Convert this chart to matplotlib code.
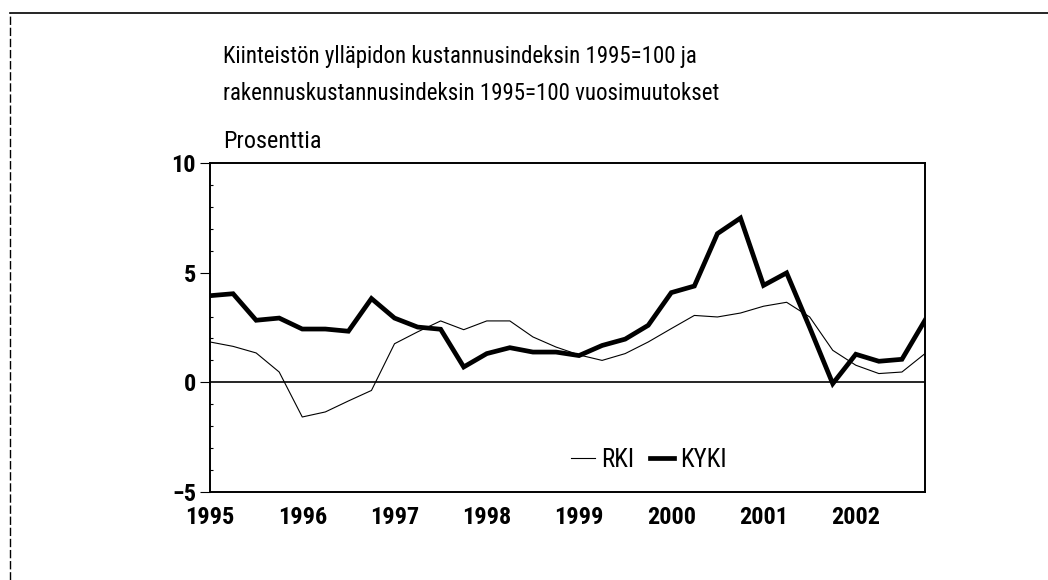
import matplotlib
matplotlib.use("Agg")
import matplotlib.pyplot as plt
from matplotlib.lines import Line2D
from matplotlib.ticker import MultipleLocator

plt.rcParams['font.family'] = ['Roboto Condensed', 'DejaVu Sans']
plt.rcParams['font.stretch'] = 'condensed'

# Quarterly data 1995Q1 .. 2002Q4
start_year = 1995
rki = [1.84, 1.64, 1.34, 0.47, -1.58, -1.35, -0.85, -0.37,
       1.76, 2.30, 2.80, 2.40, 2.80, 2.80, 2.07, 1.61,
       1.25, 1.00, 1.31, 1.84, 2.45, 3.05, 2.98, 3.16,
       3.47, 3.65, 2.98, 1.46, 0.78, 0.40, 0.47, 1.31]
kyki = [3.95, 4.04, 2.83, 2.93, 2.43, 2.43, 2.33, 3.82,
        2.93, 2.52, 2.42, 0.70, 1.31, 1.58, 1.38, 1.38,
        1.22, 1.68, 1.97, 2.60, 4.09, 4.39, 6.78, 7.49,
        4.42, 4.99, 2.50, -0.06, 1.28, 0.96, 1.05, 2.83]
years = [1995, 1996, 1997, 1998, 1999, 2000, 2001, 2002]
yticks = [-5, 0, 5, 10]

title = ("Kiinteistön ylläpidon kustannusindeksin 1995=100 ja\n"
         "rakennuskustannusindeksin 1995=100 vuosimuutokset")
ylabel = "Prosenttia"

x = [start_year + i / 4 for i in range(len(rki))]

fig = plt.figure(figsize=(10.48, 5.8), dpi=100)
ax = fig.add_axes([210 / 1048, 1 - 492 / 580, 715 / 1048, 329 / 580])

ax.plot(x, rki, color='black', lw=0.8, label='RKI')
ax.plot(x, kyki, color='black', lw=3.4, label='KYKI', solid_joinstyle='miter')
ax.axhline(0, color='black', lw=1.2)

ax.set_xlim(x[0], x[-1])
ax.set_ylim(-5, 10)
ax.set_yticks(yticks)
ax.set_yticklabels(['\u22125' if v < 0 else str(v) for v in yticks])
ax.yaxis.set_minor_locator(MultipleLocator(1))
ax.tick_params(axis='y', which='major', direction='out', length=7, width=0.8,
               labelsize=17.5, pad=3)
ax.tick_params(axis='y', which='minor', direction='in', length=2, width=0.8)
ax.set_xticks(years)
ax.set_xticklabels([str(y) for y in years])
ax.tick_params(axis='x', which='both', length=0, labelsize=17.5, pad=10)
for lab in ax.get_xticklabels() + ax.get_yticklabels():
    lab.set_fontweight('bold')
for s in ax.spines.values():
    s.set_linewidth(1.4)

leg = ax.legend(loc='center left', bbox_to_anchor=(0.505, 0.097), ncol=2,
                frameon=False, fontsize=18, handlelength=0.95,
                handletextpad=0.25, columnspacing=0.65, borderpad=0,
                borderaxespad=0)

fig.text(223 / 1048, 1 - 75 / 580, title, fontsize=16.5, ha='left', va='center',
         linespacing=1.78)
fig.text(223 / 1048, 1 - 141 / 580, ylabel, fontsize=17.5, ha='left', va='center')

# outer frame lines (top and left)
fig.add_artist(Line2D([10 / 1048, 1], [1 - 13 / 580, 1 - 13 / 580],
                      transform=fig.transFigure, color='black', lw=1.2))
fig.add_artist(Line2D([10 / 1048, 10 / 1048], [0, 1 - 13 / 580],
                      transform=fig.transFigure, color='black', lw=1.0,
                      ls=(0, (6, 2))))

fig.savefig('out.png', dpi=100)
